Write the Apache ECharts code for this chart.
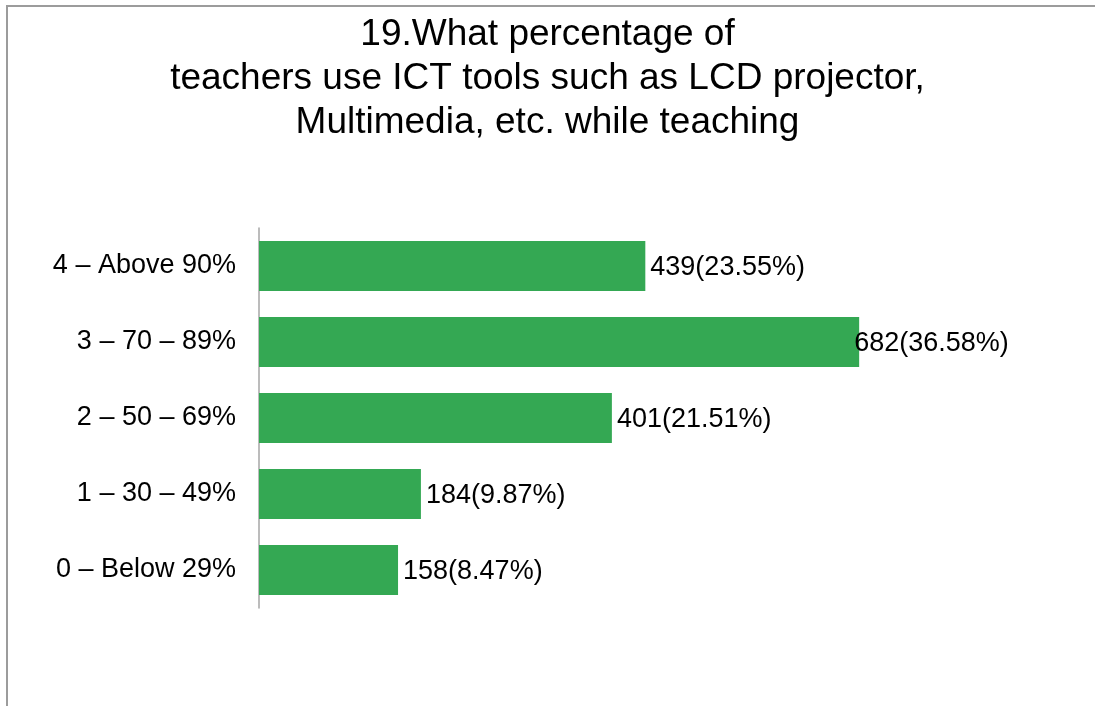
<!DOCTYPE html>
<html>
<head>
<meta charset="utf-8">
<script src="https://cdn.jsdelivr.net/npm/echarts@6/dist/echarts.min.js"></script>
<style>
  html, body { margin: 0; padding: 0; background: #fff; }
  #chart { width: 1095px; height: 706px; }
  .frame {
    position: absolute;
    left: 6px;
    top: 5px;
    right: 0;
    bottom: 0;
    border-top: 2px solid #9c9c9c;
    border-left: 2px solid #9c9c9c;
    pointer-events: none;
  }
</style>
</head>
<body>
<div id="chart"></div>
<div class="frame"></div>
<script>
// bottom to top, as the category axis draws them
const categories = ['0 – Below 29%', '1 – 30 – 49%', '2 – 50 – 69%', '3 – 70 – 89%', '4 – Above 90%']
const counts = [158, 184, 401, 682, 439]
const percents = ['8.47', '9.87', '21.51', '36.58', '23.55']

const chart = echarts.init(document.getElementById('chart'))

const FONT = 'Liberation Sans, Arial, sans-serif'

chart.setOption({
  backgroundColor: '#fff',
  textStyle: { fontFamily: FONT },
  title: {
    text: '19.What percentage of\nteachers use ICT tools such as LCD projector,\nMultimedia, etc. while teaching',
    left: 'center',
    top: 8,
    textStyle: {
      fontFamily: FONT,
      fontSize: 37,
      fontWeight: 'normal',
      lineHeight: 44,
      color: '#000'
    }
  },
  grid: {
    left: 259,
    top: 228,
    width: 704,
    bottom: 98
  },
  xAxis: {
    type: 'value',
    min: 0,
    max: 800,
    show: false
  },
  yAxis: {
    type: 'category',
    data: categories,
    axisLine: { lineStyle: { color: '#a6a6a6', width: 1.5 } },
    axisTick: { show: false },
    axisLabel: {
      fontSize: 27,
      color: '#000',
      margin: 23
    }
  },
  series: [{
    type: 'bar',
    barCategoryGap: '34%',
    data: counts.map(v => ({
      value: v,
      // the longest label sits slightly over its bar end
      label: v === Math.max(...counts) ? { offset: [-10, 2] } : { offset: [0, 2] }
    })),
    itemStyle: { color: '#34a853' },
    label: {
      show: true,
      position: 'right',
      distance: 5,
      fontSize: 27,
      color: '#000',
      formatter: p => p.value + '(' + percents[p.dataIndex] + '%)'
    }
  }]
})
</script>
</body>
</html>
